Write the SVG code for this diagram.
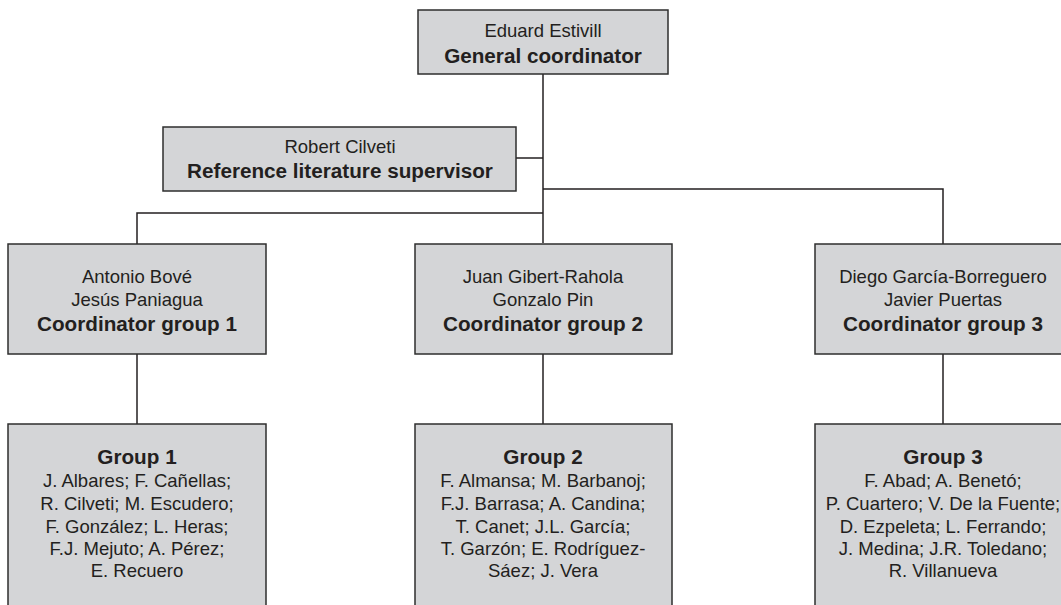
<svg xmlns="http://www.w3.org/2000/svg" width="1061" height="605" viewBox="0 0 1061 605">
<style>
.box{fill:#d4d5d7;stroke:#2e2e2e;stroke-width:1.5}
.t{font-family:"Liberation Sans",Arial,sans-serif;font-size:18.5px;fill:#231f20;text-anchor:middle}
.b{font-weight:bold;font-size:20.7px}
.c{fill:none;stroke:#231f20;stroke-width:1.5}
</style>
<rect width="1061" height="605" fill="#ffffff"/>
<g id="connectors">
<path class="c" d="M543,74 V243"/>
<path class="c" d="M516,158 H543"/>
<path class="c" d="M137,244 V213 H543"/>
<path class="c" d="M543,189 H943 V244"/>
<path class="c" d="M137,354 V424"/>
<path class="c" d="M543,354 V424"/>
<path class="c" d="M943,354 V424"/>
</g>
<g id="general">
<rect class="box" x="418" y="10" width="250" height="64"/>
<text class="t" x="543" y="37">Eduard Estivill</text>
<text class="t b" x="543" y="63">General coordinator</text>
</g>
<g id="supervisor">
<rect class="box" x="163" y="127" width="353" height="64"/>
<text class="t" x="340" y="153">Robert Cilveti</text>
<text class="t b" x="340" y="178">Reference literature supervisor</text>
</g>
<g id="coord1">
<rect class="box" x="8" y="244" width="258" height="110"/>
<text class="t" x="137" y="283">Antonio Bové</text>
<text class="t" x="137" y="306">Jesús Paniagua</text>
<text class="t b" x="137" y="331">Coordinator group 1</text>
</g>
<g id="coord2">
<rect class="box" x="415" y="244" width="257" height="110"/>
<text class="t" x="543" y="283">Juan Gibert-Rahola</text>
<text class="t" x="543" y="306">Gonzalo Pin</text>
<text class="t b" x="543" y="331">Coordinator group 2</text>
</g>
<g id="coord3">
<rect class="box" x="815" y="244" width="257" height="110"/>
<text class="t" x="943" y="283">Diego García-Borreguero</text>
<text class="t" x="943" y="306">Javier Puertas</text>
<text class="t b" x="943" y="331">Coordinator group 3</text>
</g>
<g id="group1">
<rect class="box" x="8" y="424" width="258" height="200"/>
<text class="t b" x="137" y="464">Group 1</text>
<text class="t" x="137" y="487">J. Albares; F. Cañellas;</text>
<text class="t" x="137" y="510">R. Cilveti; M. Escudero;</text>
<text class="t" x="137" y="533">F. González; L. Heras;</text>
<text class="t" x="137" y="555">F.J. Mejuto; A. Pérez;</text>
<text class="t" x="137" y="577">E. Recuero</text>
</g>
<g id="group2">
<rect class="box" x="415" y="424" width="257" height="200"/>
<text class="t b" x="543" y="464">Group 2</text>
<text class="t" x="543" y="487">F. Almansa; M. Barbanoj;</text>
<text class="t" x="543" y="510">F.J. Barrasa; A. Candina;</text>
<text class="t" x="543" y="533">T. Canet; J.L. García;</text>
<text class="t" x="543" y="555">T. Garzón; E. Rodríguez-</text>
<text class="t" x="543" y="577">Sáez; J. Vera</text>
</g>
<g id="group3">
<rect class="box" x="815" y="424" width="257" height="200"/>
<text class="t b" x="943" y="464">Group 3</text>
<text class="t" x="943" y="487">F. Abad; A. Benetó;</text>
<text class="t" x="943" y="510">P. Cuartero; V. De la Fuente;</text>
<text class="t" x="943" y="533">D. Ezpeleta; L. Ferrando;</text>
<text class="t" x="943" y="555">J. Medina; J.R. Toledano;</text>
<text class="t" x="943" y="577">R. Villanueva</text>
</g>
</svg>
